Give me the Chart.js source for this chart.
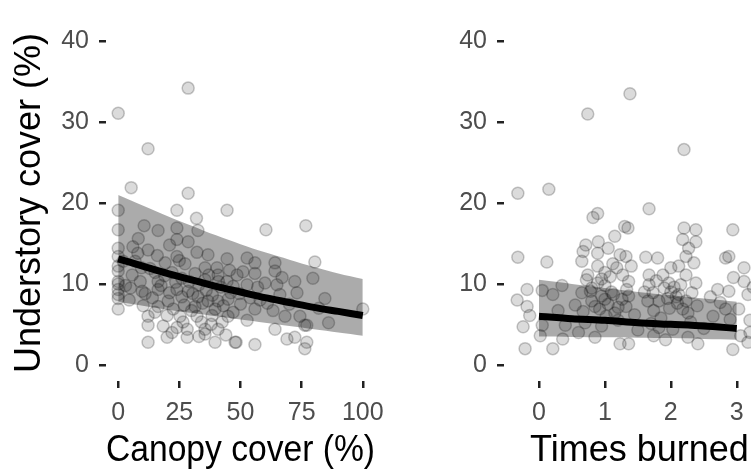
<!DOCTYPE html>
<html>
<head>
<meta charset="utf-8">
<script src="https://cdn.jsdelivr.net/npm/chart.js@4/dist/chart.umd.min.js"></script>
<style>
  html, body { margin: 0; padding: 0; background: #fff; }
  #wrap { position: relative; width: 751px; height: 470px; overflow: hidden; }
  canvas { position: absolute; top: 0; }
  #canopyChart { left: 0; }
  #burnedChart { left: 430px; }
</style>
</head>
<body>
<div id="wrap">
  <canvas id="canopyChart" width="430" height="470"></canvas>
  <canvas id="burnedChart" width="360" height="470"></canvas>
</div>
<script>
// Left panel: understory cover vs canopy cover (observations)
const canopyX = [0, 28.6, 12.2, 5.3, 28.6, 0, 24, 44.5, 32, 60.4, 76.7, 10.6, 0, 16.3, 24, 32.6,
  8.2, 24, 28.6, 0, 12.2, 24, 32.2, 36.7, 44.5, 0, 6.9, 19.2, 27.3, 35.5, 40.4, 0, 5.7, 15.1,
  22, 31.4, 40.8, 48.6, 0, 9, 16.3, 26, 35.5, 44.5, 0, 9.8, 16.3, 24, 28.6, 0, 20.4, 26, 32.6,
  36.7, 40.8, 44.9, 0, 10.2, 16.3, 31.4, 39.6, 12.2, 20, 25.3, 32.2, 38.4, 44.9, 12.2, 18.4,
  24, 28.2, 35.5, 40.8, 20, 28.2, 35.5, 39.6, 47.8, 12.2, 80.4, 64.1, 55.9, 52.7, 55.9, 64.1,
  79.6, 72.2, 60, 52.7, 64.9, 73.1, 66.1, 84.5, 55.9, 63.3, 74.3, 68.2, 52.7, 77.1, 64.1, 72.2,
  77.1, 69, 55.9, 100, 76.3, 48.2, 0, 0, 0, 4.5, 8, 16, 21, 36, 42, 46, 30, 34, 38, 42.5, 47,
  50, 26.5, 14, 5, 58, 76.3,
  2, 3, 6, 9.5, 11, 13, 15, 17.5, 19, 21, 22.5, 23.5, 25, 27, 29, 30.5, 33, 34.5, 37, 38.5,
  41, 43, 45.5, 47, 49.5, 51, 54, 57, 61, 67, 70, 82, 86, 33, 44, 22];
const canopyY = [31.1, 34.2, 26.7, 21.9, 21.2, 19.1, 19.1, 19.1, 18.1, 16.7, 17.2, 17.2, 16.7,
  16.6, 16.9, 16.6, 15.6, 15.5, 15.2, 14.4, 14.2, 13.4, 13.9, 13.6, 13.1, 13.4, 12.8, 12.6,
  12.5, 12.0, 12.0, 11.6, 11.1, 11.4, 11.4, 11.3, 11.1, 11.1, 10.3, 10.3, 10.3, 10.7, 10.5,
  10.3, 9.3, 9.1, 9.3, 9.3, 9.1, 8.7, 7.9, 8.4, 8.4, 7.9, 7.9, 8.1, 6.9, 7.3, 7.2, 7.2, 6.9,
  6.0, 6.1, 6.0, 6.0, 6.1, 6.0, 4.9, 4.8, 4.6, 4.4, 4.4, 4.4, 3.4, 3.4, 3.8, 2.8, 2.8, 2.8,
  12.7, 12.6, 12.6, 13.2, 11.3, 11.6, 10.7, 10.3, 10.1, 9.9, 9.9, 8.9, 8.7, 8.2, 6.9, 6.7,
  6.0, 6.0, 5.5, 4.9, 4.4, 3.4, 2.8, 3.2, 2.5, 6.9, 2.0, 2.8, 10.0, 8.2, 12.2, 8.0, 13.8,
  13.5, 14.8, 9.2, 9.6, 8.9, 6.7, 5.3, 5.0, 5.3, 6.5, 7.5, 5.3, 8.3, 9.5, 8.0, 4.9,
  12.8, 9.8, 14.6, 12.0, 8.8, 11.9, 6.5, 9.8, 11.0, 8.9, 6.9, 10.2, 12.9, 7.4, 10.3, 8.8, 9.9,
  7.6, 11.1, 8.6, 10.3, 7.3, 11.7, 9.7, 8.8, 11.5, 8.3, 9.6, 7.6, 10.8, 7.5, 7.0, 5.2, 3.5,
  3.7, 4.0];

// Left panel: fitted curve and confidence band
const canopyFitX = [0, 10, 20, 30, 40, 50, 60, 70, 80, 90, 100];
const canopyFit = [13.1, 12.2, 11.3, 10.5, 9.7, 9.0, 8.3, 7.7, 7.1, 6.6, 6.1];
const canopyUpper = [21.0, 19.7, 18.4, 17.2, 16.0, 14.9, 13.9, 13.0, 12.1, 11.3, 10.6];
const canopyLower = [7.8, 7.3, 6.8, 6.4, 6.0, 5.6, 5.2, 4.8, 4.4, 4.0, 3.6];

// Right panel: understory cover vs times burned (jittered observations)
const burnedX = [-0.32, 0.15, 0.74, 1.38, 2.2, 0.89, 0.82, 1.30, 1.15, 1.67, 1.35, 2.20, 2.38,
  2.94, 2.18, 2.38, 2.27, -0.32, 0.12, 0.71, 0.67, 0.89, 1.05, 1.23, 0.65, 0.89, 1.12, 0.74,
  1.0, 1.27, 0.89, -0.18, 0.05, 0.21, 0.65, -0.33, 0.8, 1.0, 1.26, -0.18, -0.14, 0.29, 0.67,
  0.92, 1.15, -0.24, 0.05, 0.70, 0.95, 0.02, 0.36, 0.85, -0.21, 0.21, 1.23, 1.33, 1.62, 1.80,
  2.23, 2.88, 2.35, 3.11, 2.12, 1.67, 1.88, 2.23, 2.95, 1.36, 1.67, 1.97, 2.38, 3.11, 2.71,
  1.73, 2.12, 1.36, 2.88, 1.65, 1.82, 2.23, 1.32, 2.83, 3.03, 1.74, 2.26, 2.64, 1.82, 2.03,
  1.74, 2.26, 3.06, 1.92, 1.36, 2.41, 2.94, 3.17, 2.83, 3.17, 1.32, 1.0, 1.1, 0.95, 2.0, 1.95,
  2.1, 1.05, 2.05, 0.8, 1.2, 2.3, 1.85, 0.6, 1.5, 2.5, 0.9, 3.2,
  0.95, 1.08, 1.18, 0.78, 1.13, 0.85, 1.2, 1.02, 0.72, 1.9, 2.08, 1.98, 2.15, 1.78, 2.32, 2.18,
  1.7, 2.4, 2.0, 2.6, 2.75, 1.6, 0.55, 0.35, 3.25, 3.2, 2.9, 1.4, 1.45, 0.4];
const burnedY = [21.2, 21.7, 31.0, 33.5, 26.6, 18.7, 18.2, 17.1, 15.9, 19.3, 16.9, 16.9, 16.7,
  16.7, 15.5, 15.2, 14.4, 13.3, 12.7, 14.8, 14.0, 13.8, 14.4, 13.6, 12.8, 12.2, 12.5, 11.1,
  11.4, 11.1, 10.1, 9.3, 9.2, 8.7, 8.9, 8.0, 7.9, 8.1, 8.1, 7.2, 6.1, 6.7, 6.6, 6.9, 6.4, 4.7,
  4.9, 5.2, 4.8, 3.6, 3.2, 3.4, 2.0, 2.0, 2.6, 9.3, 13.3, 13.2, 13.4, 13.4, 12.6, 12.0, 12.2,
  11.1, 11.1, 11.1, 10.8, 10.3, 9.9, 10.1, 10.1, 10.3, 9.3, 8.9, 8.7, 8.5, 9.1, 7.9, 7.9, 7.9,
  7.2, 6.9, 6.9, 6.7, 6.4, 6.0, 4.6, 4.4, 3.6, 3.4, 3.6, 3.1, 2.6, 2.6, 1.9, 2.8, 13.2, 8.7,
  13.4, 9.8, 9.0, 8.5, 9.0, 8.2, 7.6, 7.5, 9.6, 9.5, 5.5, 5.3, 5.8, 4.0, 4.3, 4.5, 15.2, 5.5,
  10.6, 10.9, 12.0, 9.1, 8.7, 7.2, 7.1, 6.0, 10.5, 9.5, 8.4, 7.0, 9.9, 10.4, 8.9, 6.9, 5.1,
  7.3, 12.0, 8.4, 7.7, 9.0, 7.4, 9.8, 9.6, 4.0, 5.6, 12.2, 6.2, 4.9];

// Right panel: fitted line and confidence band
const burnedFitX = [0, 0.5, 1, 1.5, 2, 2.5, 3];
const burnedFit = [6.0, 5.7, 5.5, 5.2, 5.0, 4.8, 4.5];
const burnedUpper = [10.5, 10.0, 9.5, 9.0, 8.6, 8.2, 7.8];
const burnedLower = [3.5, 3.45, 3.4, 3.35, 3.3, 3.2, 3.1];

// Tick labels
const yTicks = [0, 10, 20, 30, 40];
const canopyTicks = [0, 25, 50, 75, 100];
const burnedTicks = [0, 1, 2, 3];

const FONT = "'Liberation Sans', Arial, sans-serif";

function pairs(xs, ys) {
  return xs.map((x, i) => ({ x: x, y: ys[i] }));
}

function axis(ticks, min, max, title, size) {
  return {
    type: "linear",
    min: min,
    max: max,
    afterBuildTicks: (s) => { s.ticks = ticks.map((v) => ({ value: v })); },
    afterFit: (s) => {
      if (s.isHorizontal()) s.height = size; else s.width = size;
    },
    grid: {
      drawOnChartArea: false,
      drawTicks: true,
      tickLength: 7,
      color: "#222222",
      lineWidth: 2.5,
    },
    border: { display: false },
    ticks: {
      color: "#4d4d4d",
      font: { family: FONT, size: 25 },
      padding: 10,
      maxRotation: 0,
      autoSkip: false,
    },
    title: {
      display: !!title,
      text: title,
      color: "#000000",
      font: { family: FONT, size: 36, lineHeight: 1.05 },
      padding: { top: 11, bottom: 0 },
    },
  };
}

function makeChart(id, px, py, fx, fit, lo, hi, xTicks, xmin, xmax, xTitle, yTitle, yWidth, padRight) {
  const ctx = document.getElementById(id).getContext("2d");
  return new Chart(ctx, {
    type: "scatter",
    data: {
      datasets: [
        {
          type: "line",
          data: pairs(fx, fit),
          borderColor: "#000000",
          borderWidth: 7,
          pointRadius: 0,
          fill: false,
          tension: 0.3,
          order: 0,
        },
        {
          data: pairs(px, py),
          backgroundColor: "rgba(0,0,0,0.14)",
          borderColor: "rgba(0,0,0,0.22)",
          borderWidth: 1.5,
          pointRadius: 6,
          order: 1,
        },
        {
          type: "line",
          data: pairs(fx, hi),
          borderWidth: 0,
          pointRadius: 0,
          backgroundColor: "rgba(0,0,0,0.33)",
          fill: "+1",
          tension: 0.3,
          order: 2,
        },
        {
          type: "line",
          data: pairs(fx, lo),
          borderWidth: 0,
          pointRadius: 0,
          fill: false,
          tension: 0.3,
          order: 3,
        },
      ],
    },
    options: {
      responsive: false,
      animation: false,
      devicePixelRatio: 1,
      layout: { padding: { top: 7, right: padRight, bottom: 0, left: 0 } },
      plugins: { legend: { display: false }, tooltip: { enabled: false } },
      scales: {
        x: axis(xTicks, xmin, xmax, xTitle, 89),
        y: axis(yTicks, -2, 42, yTitle, yWidth),
      },
    },
  });
}

makeChart("canopyChart", canopyX, canopyY, canopyFitX, canopyFit, canopyLower, canopyUpper,
  canopyTicks, -5, 105, "Canopy cover (%)", "Understory cover (%)", 106, 55);
makeChart("burnedChart", burnedX, burnedY, burnedFitX, burnedFit, burnedLower, burnedUpper,
  burnedTicks, -0.53, 3.58, "Times burned", "", 74, 15);
</script>
</body>
</html>
